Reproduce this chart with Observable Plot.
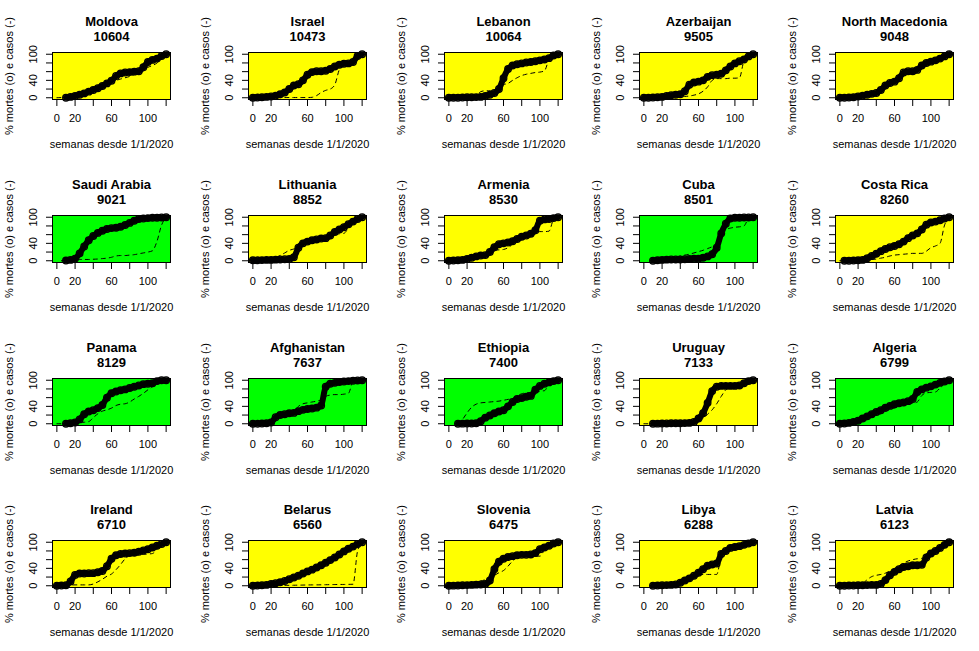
<!DOCTYPE html>
<html>
<head>
<meta charset="utf-8">
<script src="https://cdn.jsdelivr.net/npm/d3@7"></script>
<script src="https://cdn.jsdelivr.net/npm/@observablehq/plot@0.6"></script>
<style>
  html, body { margin: 0; padding: 0; background: #ffffff; }
  #grid { position: relative; width: 979px; height: 651px; overflow: hidden; background: #ffffff; }
  .panel { position: absolute; width: 196px; height: 163px; }
  .panel svg { max-width: none !important; overflow: visible; }
</style>
</head>
<body>
<div id="grid"></div>
<script>
// ---- shared axis values ----
const weeks = [0,5,10,15,20,25,30,35,40,45,50,55,60,65,70,75,80,85,90,95,100,105,110,115,120];
const xTicks = [0,20,40,60,80,100,120];
const xTickLabels = [0,20,60,100];
const yTicks = [0,20,40,60,80,100];
const yTickLabels = [0,40,100];
const xTitle = "semanas desde 1/1/2020";
const yTitle = "% mortes (o) e casos (-)";

// ---- panels ----
const countries = ["Moldova","Israel","Lebanon","Azerbaijan","North Macedonia",
  "Saudi Arabia","Lithuania","Armenia","Cuba","Costa Rica",
  "Panama","Afghanistan","Ethiopia","Uruguay","Algeria",
  "Ireland","Belarus","Slovenia","Libya","Latvia"];
const totals = [10604,10473,10064,9505,9048,9021,8852,8530,8501,8260,
  8129,7637,7400,7133,6799,6710,6560,6475,6288,6123];
const backgrounds = ["yellow","yellow","yellow","yellow","yellow",
  "green","yellow","yellow","green","yellow",
  "green","green","green","yellow","green",
  "yellow","yellow","yellow","yellow","yellow"];
const bgColors = {yellow: "#ffff00", green: "#00ff00"};

// ---- % deaths (circles) and % cases (dashed), by week ----
const moldovaDeaths = [null,null,0,2,4,7,10,14,18,22,27,33,39,50,56,58,59,60,61,70,82,87,90,96,100];
const moldovaCases  = [0,0.5,1,2,4,7,10,14,18,22,27,33,37,40,43,46,49,53,57,63,70,74,80,90,100];
const israelDeaths = [0,0.5,1,2,3,5,8,12,20,28,31,40,53,59,61,61,62,66,72,76,78,79,82,96,100];
const israelCases  = [0,0,0,0,0.2,0.3,0.3,0.4,0.5,0.5,0.5,0.5,0.5,1,5,12,17,20,30,65,77,79,82,95,100];
const lebanonDeaths = [0,0,0,0.5,1,1,1.5,2,4,7,11,20,45,66,74,77,79,81,82,84,86,88,91,97,100];
const lebanonCases  = [0,0,0,0.5,1,2,5,14,16,16,17,22,30,33,40,46,51,54,56,58,59,62,88,96,100];
const azerbaijanDeaths = [0,0,0.5,1,2,4,6,7,8,15,30,35,37,40,48,52,53,55,63,72,79,84,88,95,100];
const azerbaijanCases  = [0,0,0,0,0.5,1,1.5,2,2.5,3,4,6,9,15,25,40,44,44,44,45,45,46,85,94,100];
const macedoniaDeaths = [0,0,0.5,1,3,5,7,9,11,18,28,34,37,45,58,61,61,64,74,80,83,86,90,95,100];
const macedoniaCases  = [0,0,0.5,1,3,5,7,9,11,18,28,34,37,45,58,62,66,72,79,81,83,86,90,95,100];
const saudiDeaths = [null,null,0.5,2,5,17,33,47,57,64,69,73,75,76,78,82,87,92,96,97,98,99,99,99.5,100];
const saudiCases  = [null,0,0.5,2,3,3,3,3,3.5,4,5,6,8,11,12,12,13,14,16,18,20,23,45,82,100];
const lithuaniaDeaths = [1,1,1.5,2,2,2.5,3,3.5,4,8,30,40,44,47,49,51,52,58,66,72,77,84,90,96,100];
const lithuaniaCases  = [0,0.5,1,2,4,7,12,18,24,27,31,38,42,46,48,50,52,56,60,62,63,75,86,95,100];
const armeniaDeaths = [0,0.5,1,2,4,7,10,12,13,20,31,38,40,42,45,50,55,58,62,70,92,95,96,98,100];
const armeniaCases  = [0,0.5,1,2,4,7,10,12,14,20,25,25,26,30,38,47,52,56,60,64,67,67,68,95,100];
const cubaDeaths = [null,null,0,1,2,2.5,3,3,3,3.5,4,4.5,5,7,10,15,30,63,85,97,99,99,99.5,99.5,100];
const cubaCases  = [null,null,0,1,2,3,5,8,11,13,15,18,21,24,28,32,36,66,72,75,77,78,80,97,100];
const costaRicaDeaths = [null,0,0,0.5,1,2,6,11,16,22,27,31,34,38,44,52,58,63,72,83,88,90,93,97,100];
const costaRicaCases  = [0,0,0,0.5,1,1.5,2,3,4,6,8,11,13,14,15,16,17,17,17,22,30,34,40,82,100];
const panamaDeaths = [null,null,0,1,3,10,22,28,31,36,43,60,70,74,77,79,82,85,88,91,92,93,98,100,100];
const panamaCases  = [0,0,0.5,1,2,3,3.5,5,14,23,29,32,36,42,45,46,50,57,63,70,78,85,90,97,100];
const afghanistanDeaths = [0,0,0.5,1,3,15,20,22,24,25,29,32,34,35,37,42,85,92,94,96,97,98,99,99.5,100];
const afghanistanCases  = [0,0,0.5,2,5,14,19,22,25,28,40,46,48,50,52,55,63,66,67,67,68,70,97,99,100];
const ethiopiaDeaths = [null,null,0,0.2,0.5,0.5,1,6,14,19,24,28,31,40,50,57,59,62,64,78,87,92,95,98,100];
const ethiopiaCases  = [null,null,0,10,25,38,45,48,49,50,51,52,54,56,58,64,69,71,72,73,75,76,92,98,100];
const uruguayDeaths = [null,null,0,0.2,0.5,0.7,1,1,1,1.5,2,4,12,24,48,75,85,87,87,87,87,88,93,98,100];
const uruguayCases  = [0,0,0,0.2,0.5,0.7,1,1,1,1.5,2,3,6,12,22,32,46,63,78,85,86,87,92,98,100];
const algeriaDeaths = [0,0.5,2,4,7,12,17,22,27,31,37,41,45,47,49,52,57,73,79,83,86,90,94,97,100];
const algeriaCases  = [0,0,0.5,1,2,5,10,15,19,23,28,33,36,40,43,45,47,50,65,71,72,73,82,92,100];
const irelandDeaths = [0,0.5,1,10,25,28,28,29,29,31,34,45,62,70,73,74,75,76,78,81,84,88,92,96,100];
const irelandCases  = [0,0.5,1,1.5,2,2,2,2,4,9,15,22,27,37,49,62,69,70,71,72,73,74,84,94,100];
const belarusDeaths = [0,0.5,1,2,4,6,8,11,15,19,23,28,33,37,42,47,53,59,65,72,79,85,90,96,100];
const belarusCases  = [0,0,0.2,0.3,0.5,0.6,0.8,1,1,1.2,1.4,1.6,1.8,2,2,2.2,2.4,2.6,2.8,3,3,3.2,3.5,80,100];
const sloveniaDeaths = [0,0.2,0.5,1,1.5,2,2.5,3,4,12,38,55,62,66,68,70,71,71,72,75,84,88,92,97,100];
const sloveniaCases  = [0,0.5,1,2,4,7,9,11,14,19,24,30,35,45,57,66,68,68,68,68,68,82,90,96,100];
const libyaDeaths = [null,null,0,0.5,1,1.5,2,3,7,12,17,23,30,38,46,49,51,73,80,87,89,91,94,97,100];
const libyaCases  = [null,null,0,0.5,1,1.5,2,4,8,13,18,24,26,26,26,26,26,68,80,87,89,91,94,97,100];
const latviaDeaths = [0,0,0.5,0.5,1,1,1.5,2,2,4,13,24,32,38,43,45,47,47,48,65,74,80,87,94,100];
const latviaCases  = [0,0,0.5,1,2,5,14,21,24,26,29,34,40,46,52,57,60,62,63,68,75,81,88,95,100];

const deathSeries = [moldovaDeaths, israelDeaths, lebanonDeaths, azerbaijanDeaths, macedoniaDeaths,
  saudiDeaths, lithuaniaDeaths, armeniaDeaths, cubaDeaths, costaRicaDeaths,
  panamaDeaths, afghanistanDeaths, ethiopiaDeaths, uruguayDeaths, algeriaDeaths,
  irelandDeaths, belarusDeaths, sloveniaDeaths, libyaDeaths, latviaDeaths];
const caseSeries = [moldovaCases, israelCases, lebanonCases, azerbaijanCases, macedoniaCases,
  saudiCases, lithuaniaCases, armeniaCases, cubaCases, costaRicaCases,
  panamaCases, afghanistanCases, ethiopiaCases, uruguayCases, algeriaCases,
  irelandCases, belarusCases, sloveniaCases, libyaCases, latviaCases];

const FONT = '"Liberation Sans", Arial, Helvetica, sans-serif';
const grid = document.getElementById("grid");

function makePanel(i) {
  const bg = bgColors[backgrounds[i]];
  const rows = weeks.map((w, j) => ({week: w, deaths: deathSeries[i][j], cases: caseSeries[i][j]}));
  const deathRows = rows.filter(r => r.deaths != null);
  const caseRows = rows.filter(r => r.cases != null);
  return Plot.plot({
    width: 196,
    height: 163,
    marginLeft: 52,
    marginRight: 26,
    marginTop: 52,
    marginBottom: 64,
    x: {domain: [-4.8, 124.8]},
    y: {domain: [-4, 104]},
    style: {fontFamily: FONT, fontSize: "11px", color: "black", background: "transparent", overflow: "visible"},
    marks: [
      Plot.frame({fill: bg, stroke: "none"}),
      Plot.line(caseRows, {x: "week", y: "cases", stroke: "black", strokeWidth: 1, strokeDasharray: "4,4", curve: "monotone-x"}),
      Plot.line(deathRows, {x: "week", y: "deaths", stroke: "black", strokeWidth: 6, curve: "monotone-x"}),
      Plot.dot(deathRows, {x: "week", y: "deaths", r: 3.3, stroke: "black", strokeWidth: 1.3, fill: "none"}),
      Plot.frame({stroke: "black", strokeWidth: 1}),
      Plot.axisX({ticks: xTicks, tickSize: 7, tickPadding: 8, label: null,
        tickFormat: d => xTickLabels.includes(d) ? String(d) : "", fontSize: 11}),
      Plot.axisY({ticks: yTicks, tickSize: 6, label: null, tickFormat: () => ""}),
      Plot.text(yTickLabels, {y: d => d, text: d => String(d), frameAnchor: "left",
        textAnchor: "middle", lineAnchor: "middle", rotate: -90, dx: -19.5, fontSize: 11, fill: "black"}),
      Plot.text([countries[i] + "\n" + totals[i]], {text: d => d, frameAnchor: "top",
        textAnchor: "middle", lineAnchor: "middle", lineHeight: 1.15, dy: -24,
        fontWeight: "bold", fontSize: 13, fill: "black"}),
      Plot.text([yTitle], {text: d => d, frameAnchor: "left", textAnchor: "middle", lineAnchor: "middle",
        rotate: -90, dx: -43, fontSize: 11, fill: "black"}),
      Plot.text([xTitle], {text: d => d, frameAnchor: "bottom", textAnchor: "middle", lineAnchor: "middle",
        dy: 44.5, fontSize: 11, fill: "black"})
    ]
  });
}

countries.forEach((c, i) => {
  const col = i % 5, row = Math.floor(i / 5);
  const div = document.createElement("div");
  div.className = "panel";
  div.style.left = (col * 195.8) + "px";
  div.style.top = (row * 162.75) + "px";
  div.appendChild(makePanel(i));
  grid.appendChild(div);
});
</script>
</body>
</html>
